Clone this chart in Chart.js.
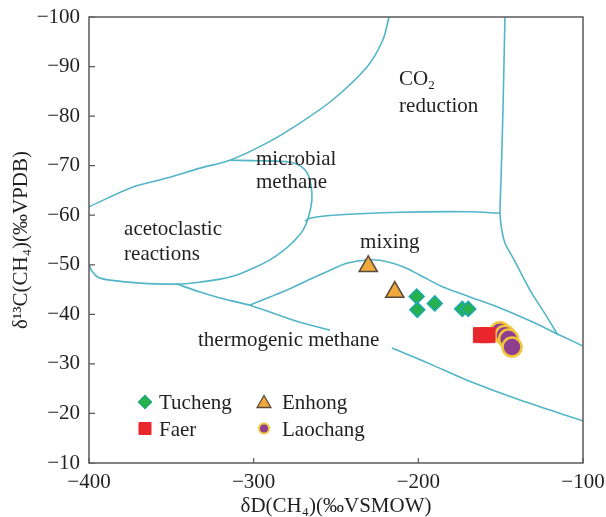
<!DOCTYPE html>
<html>
<head>
<meta charset="utf-8">
<script src="https://cdn.jsdelivr.net/npm/chart.js@4/dist/chart.umd.min.js"></script>
<style>
html,body{margin:0;padding:0;background:#fff;}
#wrap{width:606px;height:517px;}
</style>
</head>
<body>
<div id="wrap"><canvas id="c" width="606" height="517"></canvas></div>
<script>
// ---------- data ----------
const xTickValues = [-400, -300, -200, -100];
const yTickValues = [-100, -90, -80, -70, -60, -50, -40, -30, -20, -10];

const seriesNames = ['Tucheng', 'Faer', 'Enhong', 'Laochang'];

const tuchengX = [-201.0, -200.6, -190.0, -173.3, -169.7];
const tuchengY = [-43.6, -40.9, -42.2, -41.1, -41.1];

const faerX = [-162.0, -158.0];
const faerY = [-35.8, -35.8];

const enhongX = [-230.4, -214.3];
const enhongY = [-49.7, -44.5];

const laochangX = [-150.4, -147.4, -145.2, -143.1];
const laochangY = [-36.5, -35.8, -35.0, -33.4];

// field boundaries [dD, d13C]
const microbialOuter = [[-400,-61.7],[-373.3,-65.7],[-352.6,-67.5],[-332.6,-69.5],[-314.4,-71.1],[-291.9,-74.6],[-271.9,-78.6],[-251.9,-83.3],[-231.2,-89.9],[-221.5,-95.4],[-217.8,-100]];
const acetoclasticLoop = [[-314.4,-71.1],[-296.2,-71.0],[-277.9,-70.7],[-270.6,-69.7],[-266.4,-67.7],[-264.6,-63.7],[-266.4,-60.0],[-270.0,-57.0],[-276.1,-54.6],[-282.2,-52.8],[-290.1,-51.0],[-300.4,-49.3],[-310.7,-47.9],[-320.4,-47.1],[-332.6,-46.5],[-346.6,-46.1],[-369.0,-46.3],[-387.2,-46.9],[-394.5,-47.5],[-398.2,-48.7],[-400,-50.0]];
const thermoLowerLeft = [[-346.6,-46.1],[-332.6,-44.5],[-320.4,-43.3],[-301.0,-41.7],[-271.9,-38.4],[-253.6,-36.8]];
const thermoLowerRight = [[-216.0,-33.2],[-192.9,-30.0],[-170.4,-26.7],[-138.3,-22.7],[-100,-18.5]];
const mixingUpper = [[-302.2,-41.9],[-290.1,-43.5],[-279.8,-44.9],[-265.8,-47.1],[-253.6,-48.9],[-244.5,-50.2],[-235.4,-50.8],[-227.5,-51.0],[-219.0,-50.6],[-209.3,-49.6],[-199.0,-47.9],[-185.0,-45.5],[-168.6,-43.5],[-150.4,-41.3],[-132.2,-38.7],[-115.2,-36.0],[-100,-33.6]];
const co2Boundary = [[-147.4,-100],[-148.6,-81.2],[-149.8,-67.1],[-150.4,-60.4],[-149.5,-57.4],[-147.4,-54.4],[-142.5,-51.4],[-132.2,-44.9],[-121.9,-39.5],[-115.2,-35.8]];
const co2Lower = [[-268.8,-58.8],[-265.8,-59.4],[-251.8,-60.0],[-211.1,-60.6],[-168.6,-60.7],[-150.4,-60.4]];

// ---------- styles ----------
const FONT = '"Liberation Serif", "Times New Roman", serif';
const TEXT = '#231f20';
const LINE = '#52b5c8';

const styles = {
  Tucheng:  {shape:'rectRot',  fill:'#25b14c', stroke:'#1fa9b0', lw:1.5, r:7.5, lr:7},
  Faer:     {shape:'rect',     fill:'#e8262b', stroke:'#e8262b', lw:1,   r:10.6, lr:8.5},
  Enhong:   {shape:'triangle', fill:'#efa93f', stroke:'#5a4a3c', lw:1.5, r:10.5, lr:8},
  Laochang: {shape:'circle',   fill:'#8e3f8f', stroke:'#f2c63a', lw:2.5, r:9.5, lr:5}
};

const zip = (xs, ys) => xs.map((x, i) => ({x, y: ys[i]}));
const pts = arr => arr.map(p => ({x: p[0], y: p[1]}));

function markerSet(name, xs, ys) {
  const s = styles[name];
  return {
    label: name, data: zip(xs, ys), pointStyle: s.shape, pointRadius: s.r, pointHoverRadius: s.r,
    backgroundColor: s.fill, borderColor: s.stroke, pointBorderWidth: s.lw, borderWidth: s.lw,
    showLine: false, order: 1
  };
}
function lineSet(arr) {
  return {
    label: '', data: pts(arr), showLine: true, pointRadius: 0, pointHoverRadius: 0,
    borderColor: LINE, borderWidth: 1.6, tension: 0.3, fill: false, order: 10
  };
}

// region labels (anchor = left/baseline, in data coordinates)
const regionLabels = [
  {text: 'reduction', x: -211.7, y: -80.9},
  {text: 'microbial', x: -298.6, y: -70.1},
  {text: 'methane', x: -298.6, y: -65.4},
  {text: 'acetoclastic', x: -378.7, y: -56.0},
  {text: 'reactions', x: -378.7, y: -51.0},
  {text: 'mixing', x: -235.4, y: -53.4},
  {text: 'thermogenic methane', x: -333.8, y: -33.7}
];
const co2Label = {x: -211.7, y: -86.3};

function drawMarker(ctx, shape, x, y, r, fill, stroke, lw) {
  ctx.save();
  ctx.beginPath();
  if (shape === 'rectRot') {
    ctx.moveTo(x, y - r); ctx.lineTo(x + r, y); ctx.lineTo(x, y + r); ctx.lineTo(x - r, y); ctx.closePath();
  } else if (shape === 'rect') {
    const s = r * Math.SQRT1_2; ctx.rect(x - s, y - s, 2 * s, 2 * s);
  } else if (shape === 'triangle') {
    for (let k = 0; k < 3; k++) {
      const a = -Math.PI / 2 + k * 2 * Math.PI / 3;
      const px = x + Math.cos(a) * r, py = y + Math.sin(a) * r;
      k ? ctx.lineTo(px, py) : ctx.moveTo(px, py);
    }
    ctx.closePath();
  } else {
    ctx.arc(x, y, r, 0, Math.PI * 2);
  }
  ctx.fillStyle = fill; ctx.fill();
  ctx.lineWidth = lw; ctx.strokeStyle = stroke; ctx.stroke();
  ctx.restore();
}

const decorPlugin = {
  id: 'decor',
  afterDatasetsDraw(chart) {
    const {ctx, chartArea: a, scales: {x, y}} = chart;
    ctx.save();
    // frame
    ctx.strokeStyle = '#5a5a5a'; ctx.lineWidth = 1.5;
    ctx.strokeRect(a.left, a.top, a.right - a.left, a.bottom - a.top);
    // inward ticks
    ctx.lineWidth = 1.2; ctx.beginPath();
    xTickValues.forEach(v => { const px = x.getPixelForValue(v); ctx.moveTo(px, a.bottom); ctx.lineTo(px, a.bottom - 5); });
    yTickValues.forEach(v => { const py = y.getPixelForValue(v); ctx.moveTo(a.left, py); ctx.lineTo(a.left + 6, py); });
    ctx.stroke();

    // region labels
    ctx.fillStyle = TEXT; ctx.textBaseline = 'alphabetic'; ctx.textAlign = 'left';
    ctx.font = '21px ' + FONT;
    regionLabels.forEach(l => ctx.fillText(l.text, x.getPixelForValue(l.x), y.getPixelForValue(l.y)));
    const cx = x.getPixelForValue(co2Label.x), cy = y.getPixelForValue(co2Label.y);
    ctx.fillText('CO', cx, cy);
    const w = ctx.measureText('CO').width;
    ctx.font = '13px ' + FONT;
    ctx.fillText('2', cx + w, cy + 4);

    // legend
    const lx = a.left + 56, ly = a.top + 385, colDx = 119, rowDy = 26.5;
    const order = [['Tucheng', 0, 0], ['Enhong', 1, 0], ['Faer', 0, 1], ['Laochang', 1, 1]];
    ctx.font = '21px ' + FONT;
    order.forEach(([name, c, r]) => {
      const s = styles[name];
      const mx = lx + c * colDx, my = ly + r * rowDy;
      drawMarker(ctx, s.shape, mx, my + (s.shape === 'triangle' ? 1.5 : 0), s.lr, s.fill, s.stroke, s.shape === 'circle' ? 2 : (s.shape === 'triangle' ? 1.3 : 1));
      ctx.fillStyle = TEXT;
      ctx.fillText(name, mx + 14 + (c ? 4 : 0), my + 7);
    });
    ctx.restore();
  }
};

const tickFont = {family: FONT, size: 21};
const minus = v => String(v).replace('-', '\u2212');

new Chart(document.getElementById('c'), {
  type: 'scatter',
  data: {
    datasets: [
      markerSet('Tucheng', tuchengX, tuchengY),
      markerSet('Faer', faerX, faerY),
      markerSet('Enhong', enhongX, enhongY),
      markerSet('Laochang', laochangX, laochangY),
      lineSet(microbialOuter),
      lineSet(acetoclasticLoop),
      lineSet(thermoLowerLeft),
      lineSet(thermoLowerRight),
      lineSet(mixingUpper),
      lineSet(co2Boundary),
      lineSet(co2Lower)
    ]
  },
  options: {
    responsive: false, animation: false, devicePixelRatio: 1,
    layout: {padding: {left: 0, top: 17, right: 23, bottom: 0}},
    plugins: {legend: {display: false}, tooltip: {enabled: false}},
    scales: {
      x: {
        type: 'linear', min: -400, max: -100,
        afterBuildTicks: s => { s.ticks = xTickValues.map(v => ({value: v})); },
        ticks: {font: tickFont, color: TEXT, padding: 7, callback: minus, maxRotation: 0},
        grid: {display: false, drawTicks: false}, border: {display: false},
        title: {display: true, text: 'δD(CH₄)(‰VSMOW)', font: {family: FONT, size: 21, lineHeight: 1.0}, color: TEXT, padding: {top: 0, bottom: 0}},
        afterFit: s => { s.height = 54; s.paddingLeft = 0; s.paddingRight = 0; }
      },
      y: {
        type: 'linear', min: -100, max: -10, reverse: true,
        afterBuildTicks: s => { s.ticks = yTickValues.map(v => ({value: v})); },
        ticks: {font: tickFont, color: TEXT, padding: 9, callback: minus},
        grid: {display: false, drawTicks: false}, border: {display: false},
        title: {display: true, text: 'δ¹³C(CH₄)(‰VPDB)', font: {family: FONT, size: 21, lineHeight: 1.0}, color: TEXT, padding: {top: 11, bottom: 0}},
        afterFit: s => { s.width = 89; s.paddingTop = 0; s.paddingBottom = 0; }
      }
    }
  },
  plugins: [decorPlugin]
});
</script>
</body>
</html>
